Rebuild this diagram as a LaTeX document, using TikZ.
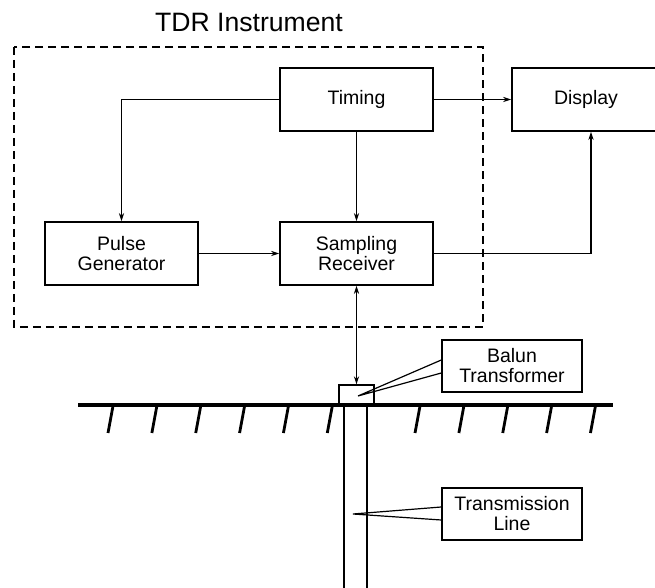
\documentclass[tikz,border=0pt]{standalone}
\usepackage{fontspec}
\setmainfont{Liberation Sans}
\usetikzlibrary{positioning,arrows.meta}

\tikzset{
  blk/.style={draw,line width=0.9pt,minimum width=76.5pt,minimum height=31.5pt,
    inner sep=0pt,align=center,font=\fontsize{9.75}{10}\selectfont},
  callout/.style={draw,line width=0.7pt,minimum width=70pt,minimum height=26pt,
    inner sep=0pt,align=center,font=\fontsize{9.75}{10}\selectfont},
  conn/.style={line width=0.6pt,-{Stealth[length=4pt,width=2.6pt]}},
  hatch/.style={line width=1.4pt},
}

\begin{document}
\begin{tikzpicture}[x=0.5pt,y=-0.5pt]
\useasboundingbox (0,0) rectangle (655,588);
% instrument frame
\draw[line width=0.6pt,dash pattern=on 4pt off 2.5pt] (14,47) rectangle (483,327);
\node[font=\fontsize{13.3}{14}\selectfont] (title) at (249,22) {TDR Instrument};
% blocks
\node[blk] (timing) at (356.5,99.5) {Timing};
\node[blk] (pulse) at (121.5,253.5) {Pulse\\Generator};
\node[blk] (samp) at (356.5,253.5) {Sampling\\Receiver};
\node[blk,minimum width=74pt] (disp) at (586,99.5) {Display};
\draw[conn] (timing.west) -| (pulse.north);
\draw[conn] (timing.south) -- (samp.north);
\draw[conn] (timing.east) -- (disp.west);
\draw[conn] (pulse.east) -- (samp.west);
\draw[conn] (samp.east) -| ([xshift=2.5pt]disp.south);
% ground and line
\node[draw,line width=0.7pt,minimum width=17.5pt,minimum height=10pt,inner sep=0pt] (balun) at (356.5,395) {};
\draw[line width=0.6pt,{Stealth[length=4pt,width=2.6pt]}-{Stealth[length=4pt,width=2.6pt]}] (samp.south) -- (balun.north);
\draw[line width=1.6pt] (78,405) -- (613,405);
\foreach \i in {0,...,5,7,8,...,11}
  \draw[hatch] ({113+43.86*\i},406) -- ({108+43.86*\i},433);
\draw[line width=0.7pt] (344,405) -- (344,588);
\draw[line width=0.7pt] (367,405) -- (367,588);
% callouts
\node[callout] (bal) at (512,366) {Balun\\Transformer};
\coordinate (baltip) at (358,396);
\draw[line width=0.6pt] ([yshift=3pt]bal.west) -- (baltip) -- ([yshift=-3.5pt]bal.west);
\node[callout] (tline) at (512,514) {Transmission\\Line};
\coordinate (tltip) at (353,514);
\draw[line width=0.6pt] ([yshift=3.5pt]tline.west) -- (tltip) -- ([yshift=-3pt]tline.west);
\end{tikzpicture}
\end{document}
